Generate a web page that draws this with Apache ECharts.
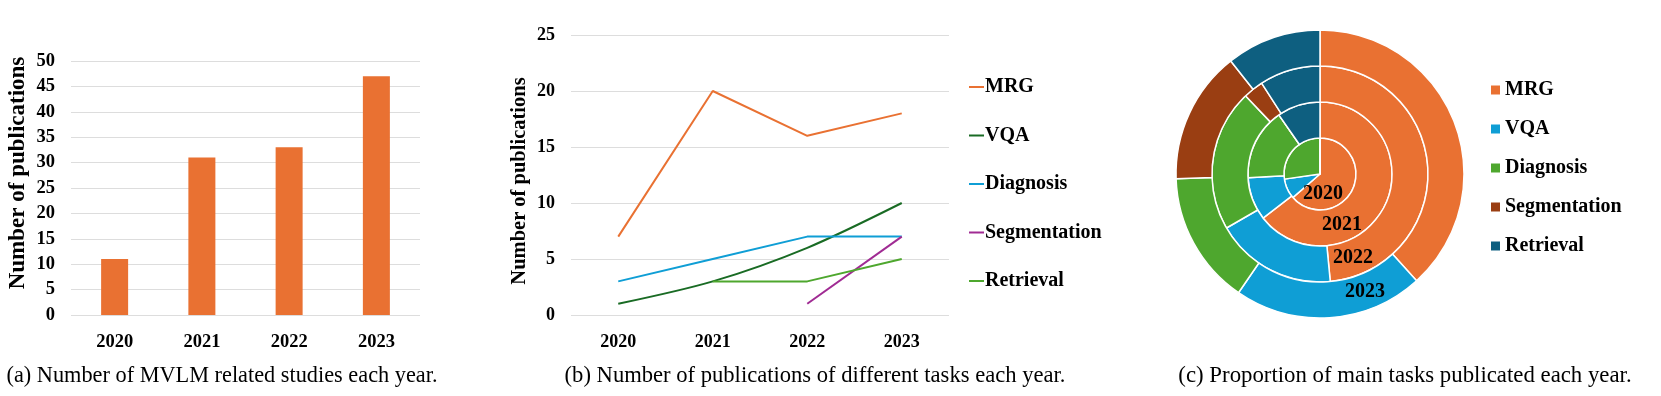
<!DOCTYPE html>
<html>
<head>
<meta charset="utf-8">
<script src="https://cdn.jsdelivr.net/npm/echarts@6/dist/echarts.min.js"></script>
<style>
html,body{margin:0;padding:0;background:#fff;}
#main{width:1661px;height:396px;}
</style>
</head>
<body>
<div id="main"></div>
<script>
// ---- data ----
var years = ['2020', '2021', '2022', '2023'];
var totalStudies = [11, 31, 33, 47];
var taskNames = ['MRG', 'VQA', 'Diagnosis', 'Segmentation', 'Retrieval'];
var mrg = [7, 20, 16, 18];
var vqa = [1, 3, 6, 10];
var diagnosis = [3, 5, 7, 7];
var segmentation = [null, null, 1, 7];
var retrieval = [null, 3, 3, 5];
var barTicks = {min: 0, max: 50, interval: 5};
var lineTicks = {min: 0, max: 25, interval: 5};
var captions = [
  '(a) Number of MVLM related studies each year.',
  '(b) Number of publications of different tasks each year.',
  '(c) Proportion of main tasks publicated each year.'
];

// ---- styles ----
var FONT = '"Liberation Serif", "Times New Roman", serif';
var lineColors = ['#E97132', '#196B24', '#0F9ED5', '#A02B93', '#4EA72E'];
var pieColors = ['#E97132', '#0F9ED5', '#4EA72E', '#9A3E12', '#0E5F80'];
var gridColor = '#DDDDDD';

var lineSeriesData = [mrg, vqa, diagnosis, segmentation, retrieval];

var chart = echarts.init(document.getElementById('main'));

var series = [];
series.push({
  type: 'bar', xAxisIndex: 0, yAxisIndex: 0,
  data: totalStudies, barWidth: 27,
  itemStyle: {color: '#E97132'}, silent: true
});
lineSeriesData.forEach(function (d, i) {
  series.push({
    type: 'line', name: taskNames[i], xAxisIndex: 1, yAxisIndex: 1,
    data: d, symbol: 'none', smooth: i === 1 ? 0.3 : false,
    lineStyle: {color: lineColors[i], width: 2},
    itemStyle: {color: lineColors[i]}
  });
});

var radii = [[0, 36], [36, 72], [72, 108], [108, 144]];
years.forEach(function (y, yi) {
  var data = [];
  taskNames.forEach(function (n, ti) {
    var v = lineSeriesData[ti][yi];
    data.push({name: n, value: v == null ? 0 : v, itemStyle: {color: pieColors[ti]}});
  });
  series.push({
    type: 'pie', name: y, center: [1320, 174], radius: radii[yi],
    startAngle: 90, clockwise: true, label: {show: false}, labelLine: {show: false},
    avoidLabelOverlap: false, silent: true,
    itemStyle: {borderColor: '#fff', borderWidth: 1.5},
    data: data
  });
});

var axisLabelBase = {color: '#000', fontFamily: FONT, fontWeight: 'bold'};

function txt(x, y, text, font) {
  return {type: 'text', x: x, y: y, z: 100, zlevel: 0,
    style: {text: text, font: font, fill: '#000', align: 'center', verticalAlign: 'middle'}};
}

var option = {
  backgroundColor: '#fff',
  animation: false,
  grid: [
    {left: 71, top: 61, width: 349, height: 254},
    {left: 571, top: 35, width: 378, height: 280}
  ],
  xAxis: [
    {type: 'category', gridIndex: 0, data: years,
     axisLine: {show: false}, axisTick: {show: false},
     axisLabel: Object.assign({fontSize: 18.5, margin: 18}, axisLabelBase)},
    {type: 'category', gridIndex: 1, data: years,
     axisLine: {show: false}, axisTick: {show: false},
     axisLabel: Object.assign({fontSize: 18, margin: 18}, axisLabelBase)}
  ],
  yAxis: [
    {type: 'value', gridIndex: 0, min: barTicks.min, max: barTicks.max, interval: barTicks.interval,
     name: 'Number of publications', nameLocation: 'middle', nameRotate: 90, nameGap: 41,
     nameTextStyle: {color: '#000', fontFamily: FONT, fontWeight: 'bold', fontSize: 23, padding: [0, 0, 0, 30]},
     axisLine: {show: false}, axisTick: {show: false},
     splitLine: {lineStyle: {color: gridColor, width: 1}},
     axisLabel: Object.assign({fontSize: 18.5, margin: 16}, axisLabelBase)},
    {type: 'value', gridIndex: 1, min: lineTicks.min, max: lineTicks.max, interval: lineTicks.interval,
     name: 'Number of publications', nameLocation: 'middle', nameRotate: 90, nameGap: 41,
     nameTextStyle: {color: '#000', fontFamily: FONT, fontWeight: 'bold', fontSize: 20.5, padding: [0, 12, 0, 0]},
     axisLine: {show: false}, axisTick: {show: false},
     splitLine: {lineStyle: {color: gridColor, width: 1}},
     axisLabel: Object.assign({fontSize: 18, margin: 16}, axisLabelBase)}
  ],
  legend: [
    {orient: 'vertical', left: 964, top: 72, itemWidth: 15, itemHeight: 2, itemGap: 28.5,
     selectedMode: false,
     data: taskNames.map(function (n, i) { return {name: n, icon: 'rect', itemStyle: {color: lineColors[i]}}; }),
     textStyle: {color: '#000', fontFamily: FONT, fontWeight: 'bold', fontSize: 20, lineHeight: 20, padding: [0, 0, 0, -4]}},
    {orient: 'vertical', left: 1486, top: 75, itemWidth: 9, itemHeight: 9, itemGap: 19,
     selectedMode: false,
     data: taskNames.map(function (n, i) { return {name: n, icon: 'rect', itemStyle: {color: pieColors[i]}}; }),
     textStyle: {color: '#000', fontFamily: FONT, fontWeight: 'bold', fontSize: 20, lineHeight: 20}}
  ],
  graphic: [
    txt(222, 376, captions[0], '22.3px ' + FONT),
    txt(815, 376, captions[1], '22.6px ' + FONT),
    txt(1405, 376, captions[2], '22.8px ' + FONT),
    txt(1323, 194, years[0], 'bold 20px ' + FONT),
    txt(1342, 225, years[1], 'bold 20px ' + FONT),
    txt(1353, 258, years[2], 'bold 20px ' + FONT),
    txt(1365, 292, years[3], 'bold 20px ' + FONT)
  ],
  series: series
};
chart.setOption(option);
</script>
</body>
</html>
